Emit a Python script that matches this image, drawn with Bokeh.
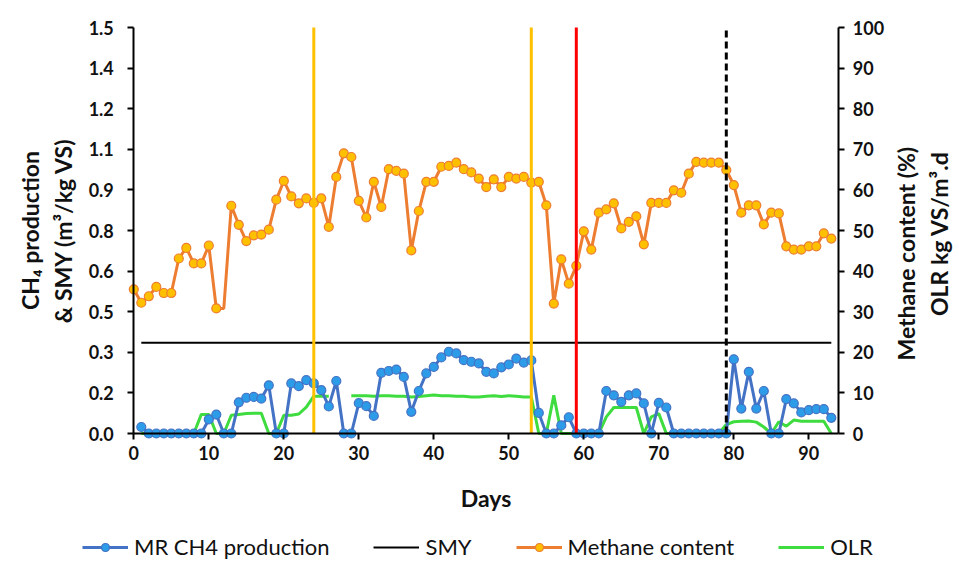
import math
from bokeh.plotting import figure
from bokeh.models import (Range1d, LinearAxis, FixedTicker, Legend, LegendItem)
from bokeh.embed import file_html
from bokeh.resources import INLINE

# ---------------- data ----------------
ch4_days = list(range(1, 94))
ch4_production = [
    0.024, 0, 0, 0, 0, 0, 0, 0, 0, 0.052,          # 1-10
    0.070, 0, 0, 0.115, 0.132, 0.135, 0.129, 0.178, 0, 0,   # 11-20
    0.185, 0.175, 0.197, 0.185, 0.160, 0.100, 0.194, 0, 0, 0.112,  # 21-30
    0.101, 0.065, 0.224, 0.231, 0.236, 0.209, 0.080, 0.157, 0.222, 0.246,  # 31-40
    0.281, 0.302, 0.296, 0.271, 0.265, 0.259, 0.228, 0.222, 0.244, 0.255,  # 41-50
    0.277, 0.262, 0.270, 0.076, 0, 0, 0.030, 0.060, 0, 0,   # 51-60
    0, 0, 0.157, 0.141, 0.117, 0.141, 0.148, 0.111, 0, 0.113,  # 61-70
    0.096, 0, 0, 0, 0, 0, 0, 0, 0, 0.274,          # 71-80
    0.092, 0.228, 0.092, 0.157, 0, 0, 0.127, 0.111, 0.078, 0.086,  # 81-90
    0.090, 0.090, 0.058,                            # 91-93
]

smy_days = [1, 93]
smy_value = [0.335, 0.335]

methane_days = list(range(0, 94))
methane_content = [
    35.5, 32.2, 33.8, 36.1, 34.6, 34.6, 43.1, 45.7, 41.9, 41.9,   # 0-9
    46.3, 30.8, 30.8, 56.1, 51.4, 47.4, 48.8, 49.0, 50.2, 57.6,   # 10-19
    62.2, 58.4, 56.7, 57.9, 56.8, 57.9, 50.9, 63.2, 69.0, 68.1,   # 20-29
    57.3, 53.2, 62.0, 55.8, 65.1, 64.7, 64.0, 45.1, 54.8, 62.0,   # 30-39
    62.0, 65.7, 65.9, 66.7, 65.1, 64.3, 62.8, 60.7, 62.6, 60.7,   # 40-49
    63.2, 62.8, 63.2, 61.8, 62.0, 56.2, 32.0, 42.9, 36.9, 41.3,   # 50-59
    49.8, 45.3, 54.4, 55.2, 56.7, 50.5, 52.1, 53.5, 46.6, 56.8,   # 60-69
    56.8, 56.8, 59.9, 59.3, 64.0, 66.9, 66.7, 66.7, 66.7, 64.9,   # 70-79
    61.2, 54.4, 56.2, 56.2, 51.5, 54.4, 54.2, 46.1, 45.3, 45.3,   # 80-89
    46.1, 46.1, 49.3, 48.0,                                       # 90-93
]
methane_no_marker_days = [12]

olr_days = list(range(1, 94))
nan = float("nan")
olr = [
    0, 0, 0, 0, 0, 0, 0, 0, 4.7, 4.7,             # 1-10
    0, 0, 4.5, 4.7, 4.9, 5.0, 5.0, 0, 0, 4.5,     # 11-20
    4.5, 4.8, 6.5, 9.2, 9.2, 9.2, nan, nan, 9.3, 9.3,  # 21-30
    9.3, 9.2, 9.3, 9.3, 9.2, 9.2, 9.0, 9.1, 9.3, 9.5,  # 31-40
    9.3, 9.3, 9.2, 9.2, 9.0, 9.0, 9.2, 9.3, 9.1, 9.3,  # 41-50
    9.2, 9.0, 9.0, 0, 0, 9.4, 0, 0, 0, 0,         # 51-60
    0, 0, 4.1, 6.4, 6.4, 6.4, 6.4, 0, 4.1, 4.9,   # 61-70
    0, 0, 0, 0, 0, 0, 0, 0, 2.2, 2.9,             # 71-80
    3.0, 3.1, 2.8, 1.6, 0, 2.9, 1.8, 3.3, 3.0, 3.0,  # 81-90
    3.0, 3.0, 0,                                  # 91-93
]

gold_event_days = [24, 53]
red_event_days = [59]
dashed_event_days = [79]

x_min, x_max = 0, 94
left_min, left_max = 0, 1.5
right_min, right_max = 0, 100
x_ticks = [0, 10, 20, 30, 40, 50, 60, 70, 80, 90]
left_ticks = [0, 0.15, 0.3, 0.45, 0.6, 0.75, 0.9, 1.05, 1.2, 1.35, 1.5]
left_tick_labels = ["0.0", "0.2", "0.3", "0.5", "0.6", "0.8", "0.9", "1.1", "1.2", "1.4", "1.5"]
right_ticks = [0, 10, 20, 30, 40, 50, 60, 70, 80, 90, 100]

# ---------------- layout (pixels) ----------------
W, H = 959, 563
PLOT_L, PLOT_R, PLOT_T, PLOT_B = 133.3, 838.3, 27.0, 433.0

# the data frame fills the whole canvas; axes sit at fixed data locations
px_per_day = (PLOT_R - PLOT_L) / (x_max - x_min)
px_per_left = (PLOT_B - PLOT_T) / (left_max - left_min)
px_per_right = (PLOT_B - PLOT_T) / (right_max - right_min)
x_rng = Range1d(x_min - PLOT_L / px_per_day, x_max + (W - PLOT_R) / px_per_day)
y_rng = Range1d(left_min - (H - PLOT_B) / px_per_left, left_max + PLOT_T / px_per_left)
yr_rng = Range1d(right_min - (H - PLOT_B) / px_per_right, right_max + PLOT_T / px_per_right)

# ---------------- styling ----------------
FONT = "Lato"
TXT = "#111111"
BLUE_LINE = "#4472C4"
BLUE_FILL = "#2D9CE8"
ORANGE_LINE = "#ED7D31"
ORANGE_FILL = "#FFC000"
GREEN = "#3EDC3E"
GOLD = "#FFC000"
TITLE_SIZE = "23px"

p = figure(width=W, height=H, output_backend="svg", toolbar_location=None,
           x_range=x_rng, y_range=y_rng, min_border=0,
           min_border_left=0, min_border_right=0, min_border_top=0, min_border_bottom=0)
p.extra_y_ranges = {"right": yr_rng}
p.outline_line_color = None
p.xgrid.visible = False
p.ygrid.visible = False
p.background_fill_color = "white"
p.border_fill_color = "white"


def style_axis(ax, standoff):
    ax.axis_line_color = "black"
    ax.axis_line_width = 2
    ax.major_tick_line_color = "black"
    ax.major_tick_line_width = 2
    ax.major_tick_out = 6
    ax.major_tick_in = 0
    ax.minor_tick_line_color = None
    ax.minor_tick_out = 0
    ax.minor_tick_in = 0
    ax.major_label_text_font = FONT
    ax.major_label_text_font_style = "bold"
    ax.major_label_text_font_size = "18px"
    ax.major_label_text_color = TXT
    ax.major_label_standoff = standoff


def style_title(ax, text, standoff):
    ax.axis_label = text
    ax.axis_label_text_font = FONT
    ax.axis_label_text_font_style = "bold"
    ax.axis_label_text_font_size = TITLE_SIZE
    ax.axis_label_text_color = TXT
    ax.axis_label_standoff = standoff


def right_title_axis(text, standoff, text_start):
    # a bare axis that only carries a rotated title; its title starts at the
    # middle of its bounds and reads upwards
    ax = LinearAxis(y_range_name="right", ticker=FixedTicker(ticks=[]))
    ax.fixed_location = x_max
    ax.bounds = (right_min, 2 * text_start)
    ax.axis_line_color = None
    ax.major_tick_line_color = None
    ax.minor_tick_line_color = None
    ax.major_tick_out = 0
    ax.major_tick_in = 0
    ax.minor_tick_out = 0
    ax.minor_tick_in = 0
    ax.major_label_standoff = 0
    style_title(ax, text, standoff)
    ax.axis_label_orientation = math.pi / 2
    return ax


# bottom axis
xa = p.xaxis[0]
xa.ticker = FixedTicker(ticks=x_ticks)
xa.fixed_location = left_min
xa.bounds = (x_min, x_max)
style_axis(xa, 6)
style_title(xa, "Days", 21)

# left axis
ya = p.yaxis[0]
ya.ticker = FixedTicker(ticks=left_ticks)
ya.major_label_overrides = {t: lab for t, lab in zip(left_ticks, left_tick_labels)}
ya.fixed_location = x_min
ya.bounds = (left_min, left_max)
style_axis(ya, 14)
style_title(ya, "CH\u2084 production\n& SMY (m\u00b3/kg VS)", 8)

# right axis (ticks) + two rotated titles
raxis = LinearAxis(y_range_name="right", ticker=FixedTicker(ticks=right_ticks))
raxis.fixed_location = x_max
raxis.bounds = (right_min, right_max)
style_axis(raxis, 8)
p.add_layout(raxis, "right")
p.add_layout(right_title_axis("Methane content (%)", 67, 18.0), "right")
p.add_layout(right_title_axis("OLR kg VS/m\u00b3.d", 100, 29.0), "right")

# ---------------- series ----------------
olr_line = p.line(olr_days, olr, y_range_name="right", line_color=GREEN, line_width=3)
smy_line = p.line(smy_days, smy_value, line_color="black", line_width=2)
ch4_line = p.line(ch4_days, ch4_production, line_color=BLUE_LINE, line_width=3)
ch4_pts = p.scatter(ch4_days, ch4_production, size=9, fill_color=BLUE_FILL,
                    line_color=BLUE_LINE, line_width=1.2)
met_line = p.line(methane_days, methane_content, y_range_name="right",
                  line_color=ORANGE_LINE, line_width=3)
mk_days = [d for d in methane_days if d not in methane_no_marker_days]
mk_vals = [v for d, v in zip(methane_days, methane_content) if d not in methane_no_marker_days]
met_pts = p.scatter(mk_days, mk_vals, y_range_name="right", size=9,
                    fill_color=ORANGE_FILL, line_color=ORANGE_LINE, line_width=1.2)

# event lines
p.segment(x0=gold_event_days, y0=[left_min] * len(gold_event_days), x1=gold_event_days,
          y1=[left_max] * len(gold_event_days), line_color=GOLD, line_width=3)
p.segment(x0=red_event_days, y0=[left_min] * len(red_event_days), x1=red_event_days,
          y1=[left_max] * len(red_event_days), line_color="#FF0000", line_width=3)
p.segment(x0=dashed_event_days, y0=[left_min] * len(dashed_event_days), x1=dashed_event_days,
          y1=[left_max] * len(dashed_event_days), line_color="black", line_width=3,
          line_dash="7 4")

# ---------------- legend ----------------
legend = Legend(items=[
    LegendItem(label="MR CH4 production", renderers=[ch4_line, ch4_pts]),
    LegendItem(label="SMY", renderers=[smy_line]),
    LegendItem(label="Methane content", renderers=[met_line, met_pts]),
    LegendItem(label="OLR", renderers=[olr_line]),
], orientation="horizontal", location=(82, 3))
legend.label_text_font = FONT
legend.label_text_font_size = "22px"
legend.label_text_color = TXT
legend.glyph_width = 46
legend.glyph_height = 20
legend.label_standoff = 6
legend.spacing = 44
legend.padding = 0
legend.margin = 0
legend.border_line_color = None
legend.background_fill_alpha = 0
p.add_layout(legend, "center")

open("out.html", "w").write(file_html(p, INLINE))
